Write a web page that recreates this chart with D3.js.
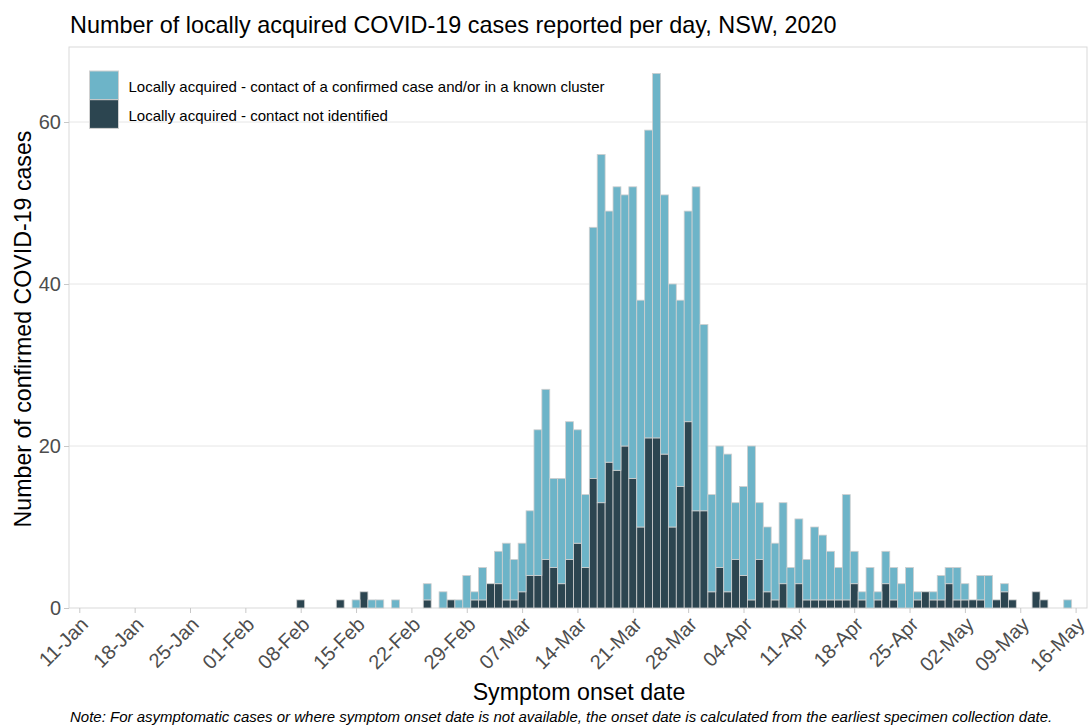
<!DOCTYPE html>
<html>
<head>
<meta charset="utf-8">
<script src="https://cdn.jsdelivr.net/npm/d3@7"></script>
<style>
  body { margin: 0; background: #fff; }
  text { font-family: "Liberation Sans", Arial, sans-serif; }
</style>
</head>
<body>
<div id="container"></div>
<script>
/* CONSTANTS AND GLOBALS */
const width = 1088, height = 726;

/* DATA */
// daily counts by symptom onset date, starting 08-Feb-2020
const firstDay = "2020-02-08";
const contactCases = [
  0,0,0,0,0,0,0,1,0,1,
  1,0,1,0,0,0,2,0,2,0,
  1,4,1,4,0,4,7,5,6,8,
  18,21,11,13,17,14,9,31,43,31,
  35,31,36,28,38,45,32,30,23,26,
  40,23,12,15,17,7,11,19,7,8,
  7,10,5,8,5,9,8,6,4,13,
  4,1,5,1,4,4,3,5,1,0,
  1,3,2,4,2,0,3,4,0,1,
  0,0,0,0,0,0,0,1
];
const unknownCases = [
  1,0,0,0,0,1,0,0,2,0,
  0,0,0,0,0,0,1,0,0,1,
  0,0,1,1,3,3,1,1,2,4,
  4,6,5,3,6,8,5,16,13,18,
  17,20,16,10,21,21,19,10,15,23,
  12,12,2,5,2,6,4,1,6,2,
  1,3,0,3,1,1,1,1,1,1,
  3,1,0,1,3,1,0,0,1,2,
  1,1,3,1,1,1,1,0,1,2,
  1,0,0,2,1,0,0,0
];
const tickDates = ["2020-01-11","2020-01-18","2020-01-25","2020-02-01","2020-02-08",
  "2020-02-15","2020-02-22","2020-02-29","2020-03-07","2020-03-14","2020-03-21",
  "2020-03-28","2020-04-04","2020-04-11","2020-04-18","2020-04-25","2020-05-02",
  "2020-05-09","2020-05-16"];
const yTicks = [0, 20, 40, 60];
const seriesNames = ["Locally acquired - contact of a confirmed case and/or in a known cluster",
  "Locally acquired - contact not identified"];
const colors = { contact: "#6db4c8", unknown: "#2c4550" };

const parse = d3.utcParse("%Y-%m-%d");
const start = parse(firstDay);
const rows = contactCases.map((c, i) => ({
  date: d3.utcDay.offset(start, i),
  contact: c,
  unknown: unknownCases[i]
}));

/* SCALES */
const panel = { left: 69, top: 47, right: 1087, bottom: 608 };

const xScale = d3.scaleUtc()
  .domain([parse("2020-01-11"), parse("2020-05-16")])
  .range([79.3, 1075.6]);

const yScale = d3.scaleLinear()
  .domain([0, 60])
  .range([608, 122]);

const svg = d3.select("#container").append("svg")
  .attr("width", width)
  .attr("height", height);

// title
svg.append("text")
  .attr("x", 70).attr("y", 33)
  .style("font-size", "23.4px").style("fill", "#000")
  .text("Number of locally acquired COVID-19 cases reported per day, NSW, 2020");

// gridlines
svg.append("g").selectAll("line")
  .data(yTicks.filter(d => d > 0))
  .join("line")
  .attr("x1", panel.left).attr("x2", panel.right)
  .attr("y1", d => yScale(d)).attr("y2", d => yScale(d))
  .style("stroke", "#e6e6e6").style("stroke-width", 1);

// panel border
svg.append("rect")
  .attr("x", panel.left).attr("y", panel.top)
  .attr("width", panel.right - panel.left).attr("height", panel.bottom - panel.top)
  .style("fill", "none").style("stroke", "#d9d9d9").style("stroke-width", 1);

/* BARS */
const stack = d3.stack().keys(["unknown", "contact"]);
const layers = stack(rows);

const dayW = xScale(d3.utcDay.offset(start, 1)) - xScale(start);

svg.append("g").selectAll("g")
  .data(layers)
  .join("g")
  .style("fill", d => colors[d.key])
  .selectAll("rect")
  .data(d => d.filter(p => p[1] > p[0]))
  .join("rect")
  .attr("x", d => xScale(d.data.date) - dayW / 2)
  .attr("width", dayW)
  .attr("y", d => yScale(d[1]))
  .attr("height", d => yScale(d[0]) - yScale(d[1]))
  .style("stroke", "#cfcfcf")
  .style("stroke-width", 0.8);

/* AXES */
const xAxis = d3.axisBottom(xScale)
  .tickValues(tickDates.map(parse))
  .tickFormat(d3.utcFormat("%d-%b"))
  .tickSize(5);

const gx = svg.append("g")
  .attr("transform", `translate(0,${panel.bottom})`)
  .call(xAxis);
gx.select(".domain").remove();
gx.selectAll(".tick line").style("stroke", "#c8c8c8");
gx.selectAll(".tick text")
  .style("font-size", "20px").style("fill", "#4d4d4d")
  .attr("text-anchor", "end")
  .attr("dx", 0).attr("dy", 0)
  .attr("transform", "translate(4,12) rotate(-45)");

const yAxis = d3.axisLeft(yScale).tickValues(yTicks).tickSize(5);
const gy = svg.append("g")
  .attr("transform", `translate(${panel.left},0)`)
  .call(yAxis);
gy.select(".domain").remove();
gy.selectAll(".tick line").style("stroke", "#c8c8c8");
gy.selectAll(".tick text")
  .style("font-size", "20px").style("fill", "#4d4d4d")
  .attr("x", -8);

// axis titles
svg.append("text")
  .attr("transform", "translate(31,329) rotate(-90)")
  .attr("text-anchor", "middle")
  .style("font-size", "23.2px")
  .text("Number of confirmed COVID-19 cases");

svg.append("text")
  .attr("x", 579).attr("y", 700)
  .attr("text-anchor", "middle")
  .style("font-size", "23.2px")
  .text("Symptom onset date");

// note
svg.append("text")
  .attr("x", 70).attr("y", 722)
  .style("font-size", "15px").style("font-style", "italic")
  .text("Note: For asymptomatic cases or where symptom onset date is not available, the onset date is calculated from the earliest specimen collection date.");

/* LEGEND */
const legend = svg.append("g").attr("transform", "translate(89.5,71)");
const legendKeys = ["contact", "unknown"];
legend.selectAll("rect")
  .data(legendKeys)
  .join("rect")
  .attr("x", 0).attr("y", (d, i) => i * 28.7)
  .attr("width", 29).attr("height", 28.7)
  .style("fill", d => colors[d])
  .style("stroke", "#d0d0d0").style("stroke-width", 1);
legend.selectAll("text")
  .data(seriesNames)
  .join("text")
  .attr("x", 39).attr("y", (d, i) => i * 28.7 + 21)
  .style("font-size", "15px")
  .text(d => d);
</script>
</body>
</html>
